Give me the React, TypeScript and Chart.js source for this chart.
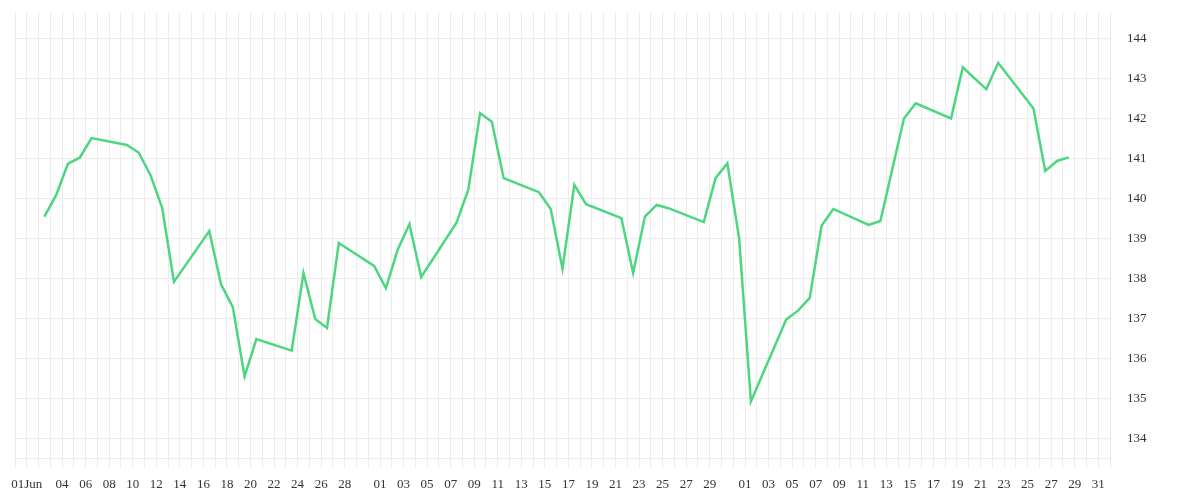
import { useEffect, useRef } from "react";
import { Chart, registerables } from "chart.js";

Chart.register(...registerables);

const YEAR = 2025;

// trading days (MM-DD) and closing values
const dates = [
  "06-02", "06-03", "06-04", "06-05", "06-06",
  "06-09", "06-10", "06-11", "06-12", "06-13",
  "06-16", "06-17", "06-18", "06-19", "06-20",
  "06-23", "06-24", "06-25", "06-26", "06-27",
  "06-30", "07-01", "07-02", "07-03", "07-04",
  "07-07", "07-08", "07-09", "07-10", "07-11",
  "07-14", "07-15", "07-16", "07-17", "07-18",
  "07-21", "07-22", "07-23", "07-24", "07-25",
  "07-28", "07-29", "07-30", "07-31", "08-01",
  "08-04", "08-05", "08-06", "08-07", "08-08",
  "08-11", "08-12", "08-13", "08-14", "08-15",
  "08-18", "08-19", "08-20", "08-21", "08-22",
  "08-25", "08-26", "08-27", "08-28",
];

const closes = [
  139.55, 140.09, 140.87, 141.02, 141.51,
  141.34, 141.15, 140.59, 139.77, 137.92,
  139.19, 137.86, 137.29, 135.56, 136.49,
  136.2, 138.14, 136.99, 136.77, 138.89,
  138.32, 137.76, 138.72, 139.36, 138.04,
  139.4, 140.22, 142.13, 141.92, 140.51,
  140.16, 139.74, 138.25, 140.34, 139.86,
  139.51, 138.14, 139.55, 139.84, 139.76,
  139.41, 140.51, 140.88, 139.01, 134.93,
  136.98, 137.2, 137.52, 139.32, 139.74,
  139.34, 139.44, 140.72, 142.0, 142.38,
  142.0, 143.28, 143.0, 142.73, 143.39,
  142.25, 140.69, 140.94, 141.03,
];

const juneTicks = ["01Jun", "04", "06", "08", "10", "12", "14", "16", "18", "20", "22", "24", "26", "28"];
const julyTicks = ["01", "03", "05", "07", "09", "11", "13", "15", "17", "19", "21", "23", "25", "27", "29"];
const augustTicks = ["01", "03", "05", "07", "09", "11", "13", "15", "17", "19", "21", "23", "25", "27", "29", "31"];

const GRID = "#ececec";
const LINE = "#4cd681";
const TEXT = "#333333";
const FONT = { family: "'Liberation Serif', serif", size: 13 };

// days since 1 June
const dayIndex = (month: number, day: number) =>
  (Date.UTC(YEAR, month - 1, day) - Date.UTC(YEAR, 5, 1)) / 86400000;

const tickText = new Map<number, string>();
([
  [6, juneTicks],
  [7, julyTicks],
  [8, augustTicks],
] as [number, string[]][]).forEach(([m, labels]) =>
  labels.forEach((l) => tickText.set(dayIndex(m, parseInt(l, 10)), l))
);

// closes are stamped at midday
const points = dates.map((d, i) => {
  const [m, dd] = d.split("-").map(Number);
  return { x: dayIndex(m, dd) + 0.5, y: closes[i] };
});

function PriceChart() {
  const canvasRef = useRef<HTMLCanvasElement>(null);
  const chartRef = useRef<Chart | null>(null);

  useEffect(() => {
    if (!canvasRef.current) return;
    const ctx = canvasRef.current.getContext("2d");
    if (!ctx) return;

    chartRef.current?.destroy();
    chartRef.current = new Chart(ctx, {
      type: "line",
      data: {
        datasets: [
          {
            data: points,
            borderColor: LINE,
            borderWidth: 2.5,
            pointRadius: 0,
            tension: 0,
            fill: false,
          },
        ],
      },
      options: {
        responsive: true,
        maintainAspectRatio: false,
        animation: false,
        layout: { padding: { left: 15, top: 12, right: 0, bottom: 0 } },
        plugins: { legend: { display: false }, tooltip: { enabled: false } },
        scales: {
          x: {
            type: "linear",
            min: dayIndex(5, 31),
            max: dayIndex(9, 1),
            grid: { color: GRID, tickLength: 10, drawTicks: true },
            border: { color: GRID },
            ticks: {
              stepSize: 1,
              autoSkip: false,
              maxRotation: 0,
              padding: 9,
              color: TEXT,
              font: FONT,
              callback: (v) => tickText.get(Number(v)) ?? "",
            },
            afterFit: (s) => {
              s.height = 42;
            },
          },
          y: {
            position: "right",
            min: 133.52,
            max: 144.66,
            grid: { color: GRID, drawTicks: true, tickLength: 14, tickColor: "transparent" },
            border: { color: GRID },
            ticks: {
              stepSize: 1,
              includeBounds: false,
              padding: 3,
              color: TEXT,
              font: FONT,
            },
            afterFit: (s) => {
              s.width = 90;
            },
          },
        },
      },
    });

    return () => chartRef.current?.destroy();
  }, []);

  return (
    <div style={{ position: "absolute", left: 0, top: 0, width: 1200, height: 500, background: "#fff" }}>
      <canvas ref={canvasRef} />
    </div>
  );
}

export default function App() {
  return <PriceChart />;
}
